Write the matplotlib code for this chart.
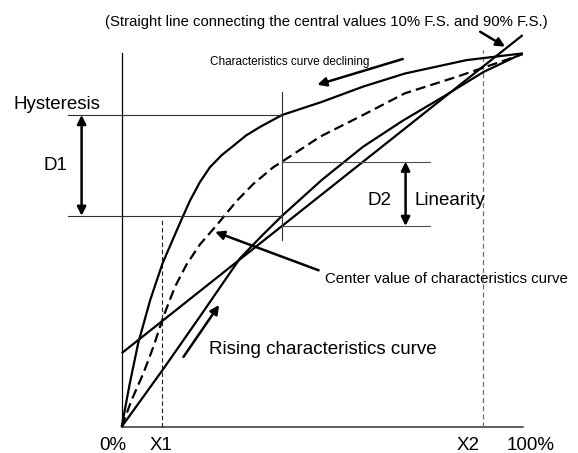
import matplotlib

matplotlib.use("Agg")
import matplotlib.pyplot as plt
import numpy as np

# Sensor output vs. input (% F.S.), rising / declining / center curves
rise_x = [0, 10.2, 19.5, 29.5, 35, 40, 49.9, 60.2, 70, 80.2, 90.2, 100]
rise_y = [0, 15.2, 29.5, 45.1, 51.2, 56.5, 66.1, 75.0, 81.9, 88.4, 95.0, 100]

decl_x = [0, 2, 4.1, 7.1, 10.2, 14.3, 17, 19.5, 22, 25, 27.8, 31, 34.5, 40,
          49.9, 60.2, 70.6, 86, 100]
decl_y = [0, 11.5, 22.3, 33.9, 43.8, 54.0, 60.5, 65.5, 69.5, 72.8, 75.2, 78.0,
          80.3, 83.5, 87.0, 91.1, 94.6, 98.2, 100]

center_x = [0, 2.5, 5.4, 7.9, 10.4, 13.3, 16.2, 19.5, 23.7, 28.7, 32.8, 37.8,
            40, 49.5, 60.2, 70.6, 83.5, 97.6, 100]
center_y = [0, 7.2, 14.3, 21.4, 29.5, 37.5, 43.5, 48.8, 54.0, 60.5, 65.0, 69.5,
            71.0, 77.7, 83.5, 89.3, 93.7, 98.9, 99.8]

# terminal-based straight line through the center values at 10% and 90%
line_x = [0, 100]
line_y = [19.7, 104.9]

x_marks = [10, 90]          # X1, X2
x_probe = 40                # where D1 / D2 are measured
tick_pos = [-2.1, 9.8, 86.5, 101.9]
tick_text = ["0%", "X1", "X2", "100%"]

FONT = ["Liberation Sans", "Arial", "DejaVu Sans"]

fig = plt.figure(figsize=(5.78, 4.53), dpi=100)
ax = fig.add_axes([0, 0, 1, 1])
ax.set_xlim(-30.35, 113.8)
ax.set_ylim(-7.04, 114.3)
ax.axis("off")

CURVE = dict(color="black", lw=1.6, solid_capstyle="butt",
             solid_joinstyle="round")
THIN = dict(color="#303030", lw=0.8)

# axes
ax.plot([0, 0], [0, 100], color="black", lw=0.9)
ax.plot([0, 100], [0, 0], color="#303030", lw=1.1)

# X1 / X2 guides
ax.plot([x_marks[0]] * 2, [0, 55.5], color="#202020", lw=0.8, dashes=(4, 2.5))
ax.plot([x_marks[1]] * 2, [0, 100.9], color="#707070", lw=0.9, dashes=(4, 2.5))

# curves
ax.plot(decl_x, decl_y, **CURVE)
ax.plot(rise_x, rise_y, **CURVE)
ax.plot(line_x, line_y, **CURVE)
ax.plot(center_x, center_y, color="black", lw=1.6, dashes=(4.5, 2.3))

# hysteresis D1 and linearity D2 read at x_probe
d1_top = decl_y[decl_x.index(x_probe)]
d1_bot = rise_y[rise_x.index(x_probe)]
d2_top = center_y[center_x.index(x_probe)]
d2_bot = np.interp(x_probe, line_x, line_y)

ax.plot([-13.4, x_probe], [d1_top, d1_top], **THIN)
ax.plot([-13.4, x_probe], [d1_bot, d1_bot], **THIN)
ax.plot([x_probe, x_probe], [50.0, 89.7], **THIN)
ax.plot([x_probe, 76.9], [d2_top, d2_top], color="#505050", lw=0.8)
ax.plot([x_probe, 76.9], [d2_bot, d2_bot], color="#505050", lw=0.8)

DOUBLE = dict(arrowstyle="<|-|>", color="black", lw=1.8, mutation_scale=13,
              shrinkA=0, shrinkB=0)
ax.annotate("", xy=(-10.0, d1_top), xytext=(-10.0, d1_bot), arrowprops=DOUBLE)
ax.annotate("", xy=(70.8, d2_top), xytext=(70.8, d2_bot), arrowprops=DOUBLE)

SINGLE = dict(arrowstyle="-|>", color="black", lw=1.8, mutation_scale=13,
              shrinkA=0, shrinkB=0)
arrows = [
    ((48.8, 91.6), (70.1, 98.5)),   # declining
    ((24.3, 32.6), (15.4, 18.7)),   # rising
    ((23.3, 52.2), (49.1, 41.9)),   # center value
    ((95.6, 101.8), (89.4, 105.8)),  # straight line note
]
for head, tail in arrows:
    ax.annotate("", xy=head, xytext=tail, arrowprops=SINGLE)

# labels
ax.text(51.0, 107.3, "(Straight line connecting the central values 10% F.S. and 90% F.S.)",
        family=FONT, fontsize=10.7, ha="center", va="baseline")
ax.text(42.0, 97.0, "Characteristics curve declining", family=FONT,
        fontsize=8.5, ha="center", va="baseline")
ax.text(-16.2, 85.0, "Hysteresis", family=FONT, fontsize=13.5,
        ha="center", va="baseline")
ax.text(-16.6, 68.7, "D1", family=FONT, fontsize=13.5, ha="center", va="baseline")
ax.text(64.4, 59.4, "D2", family=FONT, fontsize=13.5, ha="center", va="baseline")
ax.text(72.9, 59.4, "Linearity", family=FONT, fontsize=13.5,
        ha="left", va="baseline")
ax.text(50.7, 38.4, "Center value of characteristics curve", family=FONT,
        fontsize=10.8, ha="left", va="baseline")
ax.text(21.8, 19.4, "Rising characteristics curve", family=FONT, fontsize=13.5,
        ha="left", va="baseline")
for xp, label in zip(tick_pos, tick_text):
    ax.text(xp, -6.24, label, family=FONT, fontsize=13.5, ha="center",
            va="baseline")

fig.savefig("out.png", dpi=100, facecolor="white")
